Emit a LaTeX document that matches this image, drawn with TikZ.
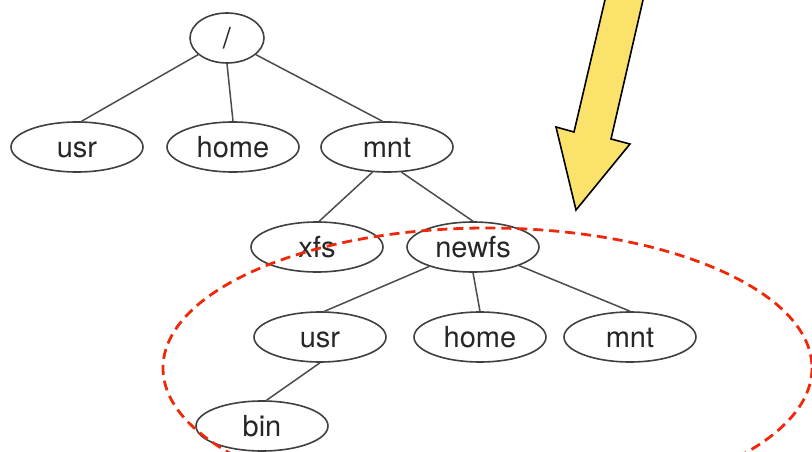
\documentclass[tikz,border=0pt]{standalone}
\usepackage{fontspec}
\setmainfont{TeX Gyre Heros}
\usetikzlibrary{shapes.geometric}

\definecolor{markred}{RGB}{240,40,10}
\definecolor{arrowyellow}{RGB}{251,226,106}

\tikzset{
	dirnode/.style={draw=black!75, line width=1.6pt, ellipse, inner sep=0pt,
		minimum width=132pt, minimum height=50pt, text=black!85,
		text height=21pt, text depth=0pt,
		font=\fontsize{29}{32}\selectfont},
	rootnode/.style={dirnode, minimum width=74pt},
	link/.style={draw=black!70, line width=1.5pt},
}

\begin{document}
\begin{tikzpicture}[x=1pt, y=-1pt]
			%%%%% START %%%%%
			
			\clip (0, 0) rectangle (812, 452);
			
			\node[rootnode] (root) at (227, 38) {/};
			
			\node[dirnode] (usrA) at (77, 147) {usr};
			\node[dirnode] (homeA) at (233, 147) {home};
			\node[dirnode] (mntA) at (387, 147) {mnt};
			
			\node[dirnode] (xfs) at (317, 247) {xfs};
			\node[dirnode] (newfs) at (473, 247) {newfs};
			
			\node[dirnode] (usrB) at (320, 337) {usr};
			\node[dirnode] (homeB) at (480, 337) {home};
			\node[dirnode] (mntB) at (630, 337) {mnt};
			
			\node[dirnode] (bin) at (262, 426) {bin};
			
			\draw[link] (root.210) -- (usrA.80);
			\draw[link] (root.south) -- (homeA.north);
			\draw[link] (root.330) -- (mntA.100);
			
			\draw[link] (mntA.240) -- (xfs.85);
			\draw[link] (mntA.300) -- (newfs.north);
			
			\draw[link] (newfs.204) -- (usrB.80);
			\draw[link] (newfs.south) -- (homeB.north);
			\draw[link] (newfs.338) -- (mntB.north);
			
			\draw[link] (usrB.south) -- (bin.80);
			
			\draw[line width=2.8pt, color=markred, dash pattern=on 10pt off 6pt] (487.5, 368) ellipse [x radius=324.5, y radius=140];
			
			\draw[line width=1.6pt, fill=arrowyellow] (607.3, -10) -- (574, 132) -- (556, 127) -- (576, 210) -- (630, 144) -- (611, 139) -- (645.3, -10) -- cycle;
			
			%%%%% END %%%%%
\end{tikzpicture}
\end{document}
